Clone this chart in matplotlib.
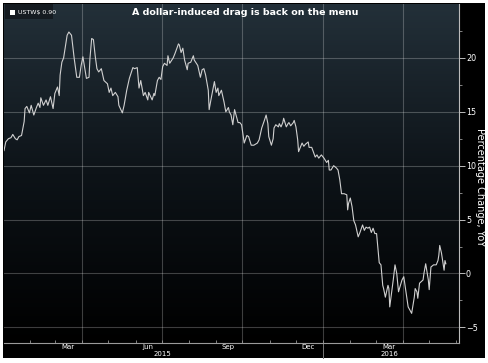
import numpy as np
import matplotlib
matplotlib.use("Agg")
import matplotlib.pyplot as plt
import matplotlib.dates as mdates
import matplotlib.transforms as mtransforms
from matplotlib.colors import LinearSegmentedColormap
from matplotlib.patches import Rectangle

# USTW$ YoY % change (days counted from 2015-01-01)
start_date = np.datetime64("2015-01-01")
day_offsets = [
    1, 3, 6, 9, 11, 14, 16, 18, 21, 24, 25, 27, 30, 32, 35, 38, 40, 42, 43, 46,
    49, 51, 54, 57, 59, 62, 64, 65, 67, 69, 73, 75, 78, 81, 84, 87, 89, 91, 95, 98,
    99, 101, 103, 105, 107, 109, 112, 115, 119, 121, 123, 125, 128, 131, 132, 136, 138, 141, 144, 148,
    150, 153, 155, 157, 160, 162, 165, 166, 170, 172, 173, 176, 178, 180, 182, 184, 187, 188, 190, 194,
    196, 200, 201, 203, 205, 207, 210, 211, 214, 217, 218, 222, 225, 227, 229, 231, 234, 235, 237, 241,
    243, 245, 246, 249, 252, 254, 257, 258, 260, 262, 264, 268, 270, 272, 275, 278, 280, 283, 286, 290,
    292, 295, 298, 300, 302, 303, 306, 308, 309, 311, 314, 315, 317, 319, 320, 323, 325, 326, 328, 331,
    332, 334, 336, 337, 341, 343, 345, 348, 349, 352, 356, 358, 360, 363, 366, 369, 371, 372, 374, 377,
    380, 382, 384, 386, 389, 392, 393, 394, 396, 398, 400, 402, 405, 407, 410, 412, 414, 416, 418, 420,
    422, 424, 426, 429, 431, 433, 434, 436, 439, 440, 441, 445, 447, 449, 451, 455, 457, 459, 462, 464,
    466, 469, 470, 472, 473, 475, 479, 480, 482, 485, 486, 488, 491, 494, 496, 497, 498, 500, 503, 504,
    505,
]
yoy_values = [
    11.4, 12.2, 12.5, 12.6, 12.9, 12.5, 12.4, 12.7, 12.8, 14.1, 15.3, 15.5, 14.9, 15.6, 14.7, 15.4, 15.8, 15.4, 16.3, 15.6,
    16.1, 15.6, 16.4, 15.3, 16.7, 17.3, 16.5, 18.4, 19.6, 20.0, 22.1, 22.4, 22.1, 20.0, 18.2, 18.2, 19.3, 20.1, 18.1, 18.2,
    19.9, 21.8, 21.7, 20.2, 19.0, 18.7, 19.0, 17.9, 17.6, 16.8, 17.2, 16.5, 16.8, 16.4, 15.6, 14.9, 15.6, 17.0, 18.1, 19.1,
    19.0, 19.1, 17.2, 17.9, 16.5, 16.8, 16.1, 16.8, 16.1, 16.7, 16.5, 17.9, 18.2, 18.0, 19.2, 19.5, 19.3, 20.2, 19.5, 20.0,
    20.4, 21.3, 21.2, 20.5, 20.9, 19.8, 18.9, 19.5, 19.6, 20.2, 19.8, 19.3, 18.2, 18.9, 19.0, 18.4, 17.0, 15.2, 16.1, 17.8,
    16.8, 17.2, 16.5, 17.0, 15.9, 15.0, 15.4, 15.0, 14.7, 13.8, 15.2, 14.0, 14.0, 13.8, 12.1, 12.8, 12.7, 11.9, 11.9, 12.1,
    12.4, 13.5, 14.2, 14.7, 13.9, 12.7, 11.9, 12.5, 13.5, 13.8, 13.6, 13.9, 13.6, 14.0, 14.4, 13.6, 13.9, 14.0, 13.7, 14.0,
    14.2, 13.6, 12.4, 11.3, 12.1, 11.8, 12.0, 12.2, 11.7, 11.7, 10.8, 11.0, 10.7, 11.0, 10.7, 10.3, 10.5, 9.6, 9.6, 10.0,
    9.8, 9.6, 8.7, 7.4, 7.4, 7.3, 5.9, 6.5, 7.0, 6.2, 4.9, 4.5, 3.4, 3.8, 4.5, 4.0, 4.3, 4.2, 4.3, 3.8,
    4.2, 3.7, 3.7, 1.0, 0.8, -1.1, -1.4, -2.2, -1.1, -1.4, -3.1, -0.6, 0.8, 0.0, -1.7, -0.6, -0.3, -1.4, -3.1, -3.4,
    -3.7, -2.2, -1.4, -1.7, -2.3, -0.9, -0.6, 0.0, 0.9, -0.6, -1.5, 0.6, 0.8, 0.8, 1.2, 1.7, 2.6, 1.9, 0.3, 1.2,
    0.9,
]
series_label = "USTW$ 0.90"
title = "A dollar-induced drag is back on the menu"
y_label = "Percentage Change, YoY"
month_labels = ["Mar", "Jun", "Sep", "Dec", "Mar"]
month_label_dates = ["2015-03-16", "2015-06-15", "2015-09-15", "2015-12-15", "2016-03-16"]
year_labels = ["2015", "2016"]
year_label_dates = ["2015-07-02", "2016-03-17"]

dates = start_date + np.array(day_offsets, dtype="timedelta64[D]")

W, H = 488, 363
fig = plt.figure(figsize=(W / 100, H / 100), dpi=100, facecolor="white")

# black terminal panel behind everything
fig.patches.append(Rectangle((3 / W, 5 / H), 482 / W, 355 / H,
                             transform=fig.transFigure, facecolor="black",
                             edgecolor="none", zorder=-10))

ax = fig.add_axes([4 / W, 20 / H, 455 / W, 339 / H])
ax.set_facecolor("black")
ax.set_zorder(1)

# dark blue-grey to black gradient
grad = LinearSegmentedColormap.from_list("bbg", ["#000000", "#0d1318", "#233039"])
ax.imshow(np.linspace(0, 1, 256).reshape(-1, 1)[::-1], cmap=grad, aspect="auto",
          extent=(0, 1, 0, 1), transform=ax.transAxes, zorder=0)

ax.plot(dates, yoy_values, color="#d0d0d0", linewidth=0.8, zorder=3)

ax.set_xlim(np.datetime64("2015-01-02"), np.datetime64("2016-06-04"))
ax.set_ylim(-6.45, 25.0)

# quarter gridlines, monthly ticks
ax.xaxis.set_major_locator(mdates.MonthLocator(bymonth=[1, 4, 7, 10]))
ax.xaxis.set_minor_locator(mdates.MonthLocator())
ax.xaxis.set_major_formatter(plt.NullFormatter())
ax.tick_params(axis="x", which="both", direction="in", length=2.5, width=0.6,
               color="#9a9a9a")

ax.yaxis.tick_right()
ax.yaxis.set_label_position("right")
ax.set_yticks(np.arange(-5, 21, 5))
ax.set_yticks(np.arange(-5, 25, 2.5), minor=True)
ax.tick_params(axis="y", which="major", direction="out", length=4, width=0.7,
               color="#bbbbbb", labelcolor="white", labelsize=5.8, pad=1)
ax.tick_params(axis="y", which="minor", direction="out", length=2, width=0.6,
               color="#999999")

ax.grid(True, which="major", color="white", alpha=0.24, linewidth=0.8)

for side in ["left", "top"]:
    ax.spines[side].set_visible(False)
ax.spines["right"].set_color("#bbbbbb")
ax.spines["right"].set_linewidth(0.8)
ax.spines["bottom"].set_color("#9a9a9a")
ax.spines["bottom"].set_linewidth(0.8)

ax.set_ylabel(y_label, color="white", fontsize=7, rotation=-90, ha="center", va="center")
ax.yaxis.set_label_coords(1.047, 0.46)

# month / year labels below the axis
trans = mtransforms.blended_transform_factory(ax.transData, ax.transAxes)
for lab, d in zip(month_labels, month_label_dates):
    ax.text(np.datetime64(d), -0.002, lab, transform=trans, ha="center", va="top",
            color="white", fontsize=5)
for lab, d in zip(year_labels, year_label_dates):
    ax.text(np.datetime64(d), -0.025, lab, transform=trans, ha="center", va="top",
            color="white", fontsize=5)
ax.plot([np.datetime64("2016-01-01")] * 2, [0, -0.043], transform=trans,
        color="#777777", linewidth=0.7, clip_on=False)

# title
ax.text(0.53, 0.975, title, transform=ax.transAxes, ha="center", va="center",
        color="white", fontsize=6.8, fontweight="bold", zorder=6)

# legend box
ax.add_patch(Rectangle((0.002, 0.955), 0.105, 0.044, transform=ax.transAxes,
                       facecolor="#151b21", edgecolor="none", zorder=5))
ax.add_patch(Rectangle((0.013, 0.967), 0.011, 0.015, transform=ax.transAxes,
                       facecolor="white", edgecolor="none", zorder=6))
ax.text(0.030, 0.975, series_label, transform=ax.transAxes, ha="left", va="center",
        color="white", fontsize=4.5, zorder=7)

fig.savefig("out.png", dpi=100, facecolor="white")
